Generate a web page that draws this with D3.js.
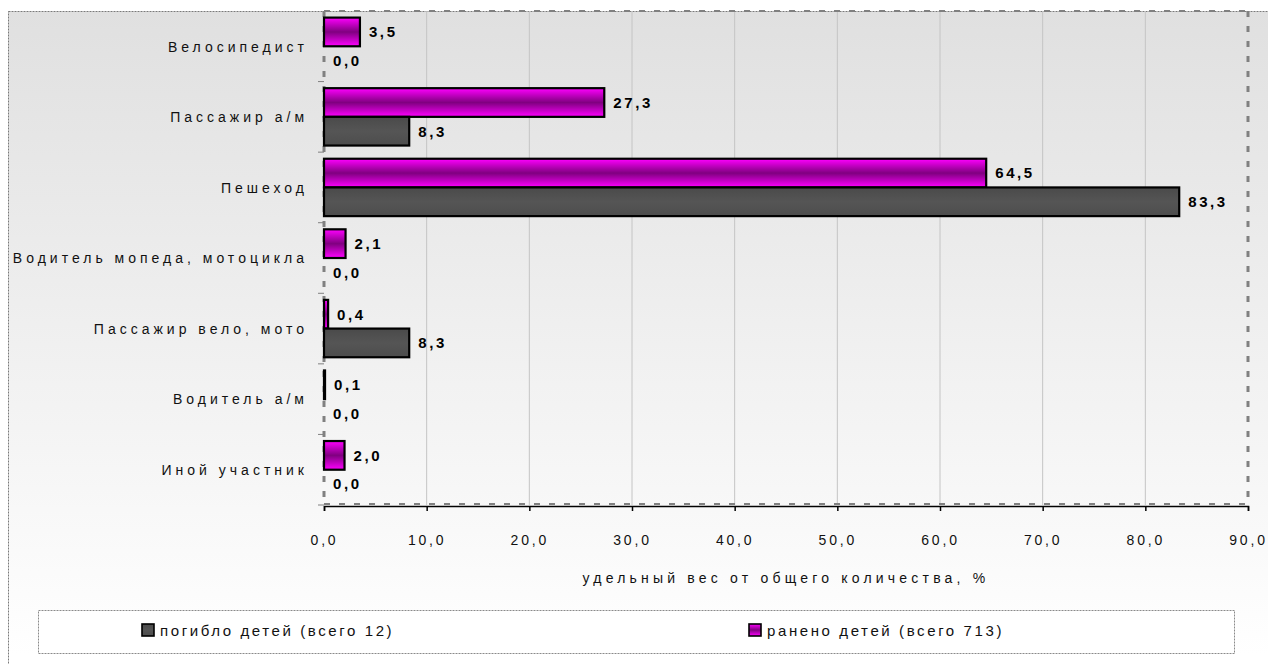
<!DOCTYPE html>
<html>
<head>
<meta charset="utf-8">
<script src="https://cdn.jsdelivr.net/npm/d3@7/dist/d3.min.js"></script>
<style>
  html, body { margin: 0; padding: 0; background: #ffffff; }
  svg { display: block; font-family: "Liberation Sans", Arial, sans-serif; }
</style>
</head>
<body>
<svg id="chart" width="1268" height="664"></svg>
<script>
// Участники ДТП: доля погибших и раненых детей, %
const categories = [
  "Велосипедист",
  "Пассажир а/м",
  "Пешеход",
  "Водитель мопеда, мотоцикла",
  "Пассажир вело, мото",
  "Водитель а/м",
  "Иной участник"
];
const injured = [3.5, 27.3, 64.5, 2.1, 0.4, 0.1, 2.0];
const killed  = [0.0, 8.3, 83.3, 0.0, 8.3, 0.0, 0.0];
const xTicks = [0, 10, 20, 30, 40, 50, 60, 70, 80, 90];
const seriesNames = ["погибло детей (всего 12)", "ранено детей (всего 713)"];
const axisTitle = "удельный вес от общего количества, %";

const fmt = v => v.toFixed(1).replace(".", ",");

const svg = d3.select("#chart");
const defs = svg.append("defs");

// фон всей области диаграммы
const bg = defs.append("linearGradient").attr("id", "bgGrad")
  .attr("x1", 0).attr("y1", 0).attr("x2", 0).attr("y2", 1);
bg.append("stop").attr("offset", "0%").attr("stop-color", "#e0e0e0");
bg.append("stop").attr("offset", "92%").attr("stop-color", "#ffffff");

const mag = defs.append("linearGradient").attr("id", "magGrad")
  .attr("x1", 0).attr("y1", 0).attr("x2", 0).attr("y2", 1);
mag.append("stop").attr("offset", "0%").attr("stop-color", "#ff00ff");
mag.append("stop").attr("offset", "50%").attr("stop-color", "#800080");
mag.append("stop").attr("offset", "100%").attr("stop-color", "#ff00ff");

const gry = defs.append("linearGradient").attr("id", "grayGrad")
  .attr("x1", 0).attr("y1", 0).attr("x2", 0).attr("y2", 1);
gry.append("stop").attr("offset", "0%").attr("stop-color", "#4a4a4a");
gry.append("stop").attr("offset", "50%").attr("stop-color", "#555555");
gry.append("stop").attr("offset", "100%").attr("stop-color", "#4d4d4d");

// внешняя рамка
svg.append("rect")
  .attr("x", 8.5).attr("y", 11.5).attr("width", 1300).attr("height", 700)
  .attr("fill", "url(#bgGrad)")
  .attr("stroke", "#7a7a7a").attr("stroke-width", 1)
  .attr("stroke-dasharray", "2,1");

const plot = { left: 324, top: 11, right: 1248, bottom: 505 };

const x = d3.scaleLinear().domain([0, 90]).range([plot.left, plot.right]);
const y = d3.scaleBand().domain(categories).range([plot.top, plot.bottom]).paddingInner(0).paddingOuter(0);
const inner = d3.scaleBand().domain(["injured", "killed"])
  .range([0, y.bandwidth()]).paddingInner(0).paddingOuter(0.23);

// сетка
svg.append("g").selectAll("line").data(xTicks.slice(1, -1)).join("line")
  .attr("x1", d => x(d)).attr("x2", d => x(d))
  .attr("y1", plot.top).attr("y2", plot.bottom)
  .attr("stroke", "#c4c4c4").attr("stroke-width", 1);

// рамка области построения
const dashed = svg.append("g").attr("fill", "none").attr("stroke", "#808080");
dashed.append("line").attr("x1", plot.left).attr("x2", plot.right)
  .attr("y1", plot.top).attr("y2", plot.top)
  .attr("stroke-width", 2).attr("stroke-dasharray", "6,9");
dashed.append("line").attr("x1", plot.right).attr("x2", plot.right)
  .attr("y1", plot.top).attr("y2", plot.bottom)
  .attr("stroke-width", 3).attr("stroke-dasharray", "6,9");
dashed.append("line").attr("x1", plot.left).attr("x2", plot.right)
  .attr("y1", plot.bottom - 1).attr("y2", plot.bottom - 1)
  .attr("stroke-width", 2).attr("stroke-dasharray", "6,9");
dashed.append("line").attr("x1", plot.left).attr("x2", plot.left)
  .attr("y1", plot.top).attr("y2", plot.bottom)
  .attr("stroke-width", 3).attr("stroke-dasharray", "6,9");

// деления оси категорий
const yTickPos = categories.slice(1).map(c => y(c));
yTickPos.push(plot.bottom);
svg.append("g").selectAll("line").data(yTickPos).join("line")
  .attr("x1", plot.left - 6).attr("x2", plot.left)
  .attr("y1", d => d).attr("y2", d => d)
  .attr("stroke", "#808080").attr("stroke-width", 1);

// ось X
const xAxis = d3.axisBottom(x).tickValues(xTicks).tickFormat(fmt).tickSize(5).tickPadding(24);
const gx = svg.append("g").attr("transform", `translate(0,${plot.bottom + 1})`).call(xAxis);
gx.select(".domain").attr("stroke", "#000").attr("stroke-width", 1.5);
gx.selectAll(".tick line").attr("stroke", "#000").attr("stroke-width", 1.5);
gx.selectAll(".tick text")
  .attr("font-size", 14).attr("fill", "#111")
  .attr("font-family", "Liberation Sans, Arial, sans-serif")
  .style("letter-spacing", "2.8px");

svg.append("text")
  .attr("x", (plot.left + plot.right) / 2).attr("y", 583)
  .attr("text-anchor", "middle")
  .attr("font-size", 14).attr("fill", "#111")
  .style("letter-spacing", "4.2px")
  .text(axisTitle);

// подписи категорий
svg.append("g").selectAll("text").data(categories).join("text")
  .attr("x", 308).attr("y", d => y(d) + y.bandwidth() / 2)
  .attr("dy", "0.38em")
  .attr("text-anchor", "end")
  .attr("font-size", 14).attr("fill", "#111")
  .style("letter-spacing", "4px")
  .text(d => d);

// столбцы
const rows = categories.map((c, i) => ({ c, injured: injured[i], killed: killed[i] }));
const series = [
  { key: "injured", fill: "url(#magGrad)" },
  { key: "killed", fill: "url(#grayGrad)" }
];

series.forEach(s => {
  const g = svg.append("g");
  g.selectAll("rect").data(rows.filter(r => r[s.key] > 0)).join("rect")
    .attr("x", x(0))
    .attr("y", r => y(r.c) + inner(s.key))
    .attr("width", r => x(r[s.key]) - x(0))
    .attr("height", inner.bandwidth())
    .attr("fill", s.fill)
    .attr("stroke", "#000").attr("stroke-width", 2.2);

  g.selectAll("text").data(rows).join("text")
    .attr("x", r => x(r[s.key]) + 9)
    .attr("y", r => y(r.c) + inner(s.key) + inner.bandwidth() / 2)
    .attr("dy", "0.36em")
    .attr("font-size", 15).attr("font-weight", "bold").attr("fill", "#000")
    .style("letter-spacing", "2.6px")
    .text(r => fmt(r[s.key]));
});

// легенда
const leg = svg.append("g");
leg.append("rect")
  .attr("x", 38.5).attr("y", 610.5).attr("width", 1196).attr("height", 43)
  .attr("fill", "#ffffff")
  .attr("stroke", "#8a8a8a").attr("stroke-width", 1).attr("stroke-dasharray", "2,1");

const legItems = [
  { name: seriesNames[0], fill: "url(#grayGrad)", x: 142 },
  { name: seriesNames[1], fill: "url(#magGrad)", x: 749 }
];
legItems.forEach(it => {
  leg.append("rect")
    .attr("x", it.x).attr("y", 624).attr("width", 12).attr("height", 12)
    .attr("fill", it.fill).attr("stroke", "#000").attr("stroke-width", 1.6);
  leg.append("text")
    .attr("x", it.x + 18).attr("y", 631)
    .attr("dy", "0.36em")
    .attr("font-size", 15).attr("fill", "#111")
    .style("letter-spacing", "2.6px")
    .text(it.name);
});
</script>
</body>
</html>
